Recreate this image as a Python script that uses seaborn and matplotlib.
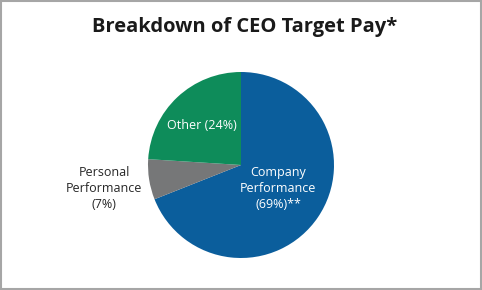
import matplotlib
matplotlib.use("Agg")
import matplotlib.pyplot as plt
from matplotlib.patches import Rectangle
import seaborn as sns

# data
categories = ["Company\nPerformance\n(69%)**", "Personal\nPerformance\n(7%)", "Other (24%)"]
shares = [69, 7, 24]
colors = ["#0B5E9C", "#767778", "#0E8C5A"]
label_colors = ["white", "#262626", "white"]

sns.set_style("white")
plt.rcParams["font.family"] = ["Open Sans", "DejaVu Sans"]

fig = plt.figure(figsize=(4.82, 2.90), dpi=100)
# pie centre ~ (241,165) px, radius ~93 px
ax = fig.add_axes([(241 - 93) / 482, (125 - 93) / 290, 186 / 482, 186 / 290])

wedges, texts = ax.pie(shares, labels=categories, colors=colors, startangle=90,
                       counterclock=False, labeldistance=0.6,
                       wedgeprops=dict(linewidth=0),
                       textprops=dict(fontsize=9, ha="center", va="center",
                                      linespacing=1.3))
# label placement (radius units)
label_pos = [(0.40, -0.25), (-1.47, -0.25), (-0.42, 0.43)]
for t, c, p in zip(texts, label_colors, label_pos):
    t.set_color(c)
    t.set_position(p)
    t.set_horizontalalignment("center")
ax.set_xlim(-1, 1)
ax.set_ylim(-1, 1)
ax.set_aspect("equal")

fig.text(245 / 482, 1 - 27 / 290, "Breakdown of CEO Target Pay*", ha="center",
         va="center", fontsize=14.5, fontweight="bold", color="#1a1a1a")

fig.patches.append(Rectangle((0.002, 0.003), 0.996, 0.994, transform=fig.transFigure,
                             fill=False, edgecolor="#A6A6A6", linewidth=1.5))

fig.savefig("out.png", dpi=100)
